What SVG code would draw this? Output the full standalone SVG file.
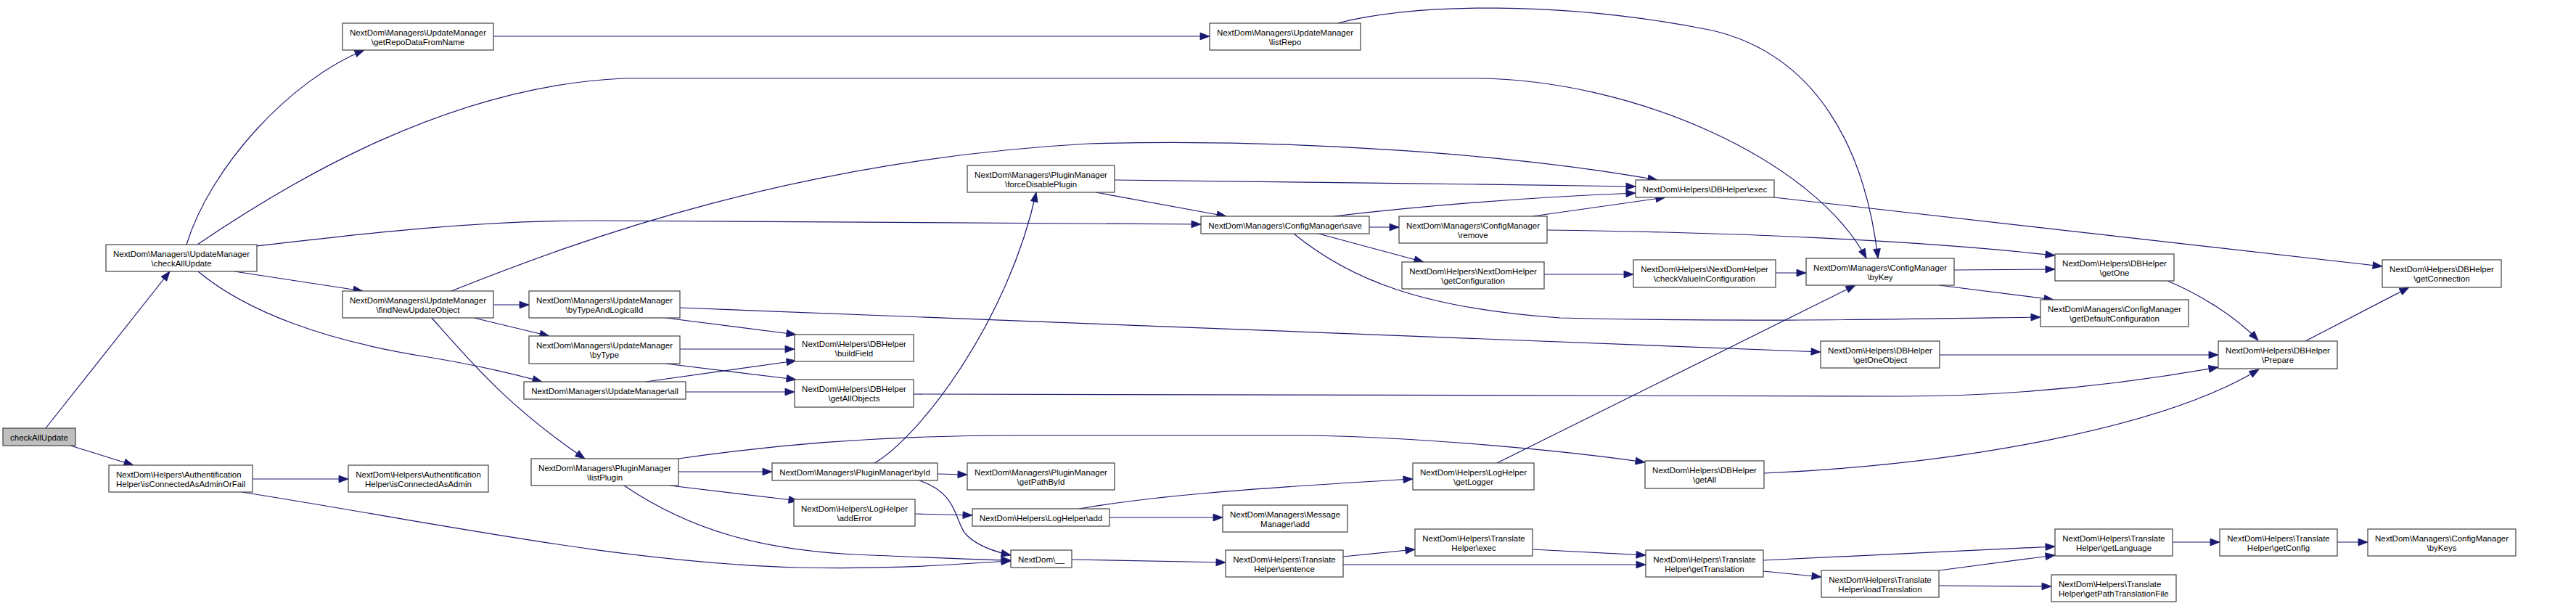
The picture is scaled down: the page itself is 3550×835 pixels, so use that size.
<svg xmlns="http://www.w3.org/2000/svg" width="3550" height="835" viewBox="0 0 3550 835">
<style>
.n rect{fill:#ffffff;stroke:#404040;stroke-width:1.2}
.root rect{fill:#bfbfbf}
text{font-family:"Liberation Sans",Arial,Helvetica,sans-serif;font-size:11.5px;fill:#000;text-anchor:middle}
text.l{text-anchor:start}
.e path{fill:none;stroke:#191970;stroke-width:1.2;marker-end:url(#a)}
</style>
<defs>
<marker id="a" markerUnits="userSpaceOnUse" markerWidth="13" markerHeight="11" viewBox="0 0 12 10" refX="12" refY="5" orient="auto" overflow="visible">
<path d="M0,0.5L12,5L0,9.5z" fill="#191970" stroke="#191970" stroke-width="0.8"/>
</marker>
</defs>
<rect x="0" y="0" width="3550" height="835" fill="#ffffff"/>
<g id="edges" class="e">
<path d="M63,590L234,374"/>
<path d="M97,614L184,641"/>
<path d="M257,337C290,230 400,110 502,69"/>
<path d="M272,337C400,250 620,118 860,108L2030,108C2250,108 2500,220 2572,356"/>
<path d="M354,339C500,322 650,304 820,304L1655,309"/>
<path d="M323,374L500,401"/>
<path d="M273,374C340,430 450,470 590,492C650,502 700,513 747,526"/>
<path d="M333,678C600,720 850,775 1100,782C1250,785 1330,776 1393,773"/>
<path d="M348,660L480,660"/>
<path d="M680,50L1667,50"/>
<path d="M680,420L729,420"/>
<path d="M653,438L757,463"/>
<path d="M595,438C650,500 700,560 806,632"/>
<path d="M622,401C800,330 1100,220 1500,198C1800,190 2100,215 2284,248"/>
<path d="M1843,32C1950,5 2150,0 2360,42C2500,75 2570,200 2588,356"/>
<path d="M1837,298C1950,285 2100,272 2254,266"/>
<path d="M1887,313L1928,313"/>
<path d="M1817,322L1962,361"/>
<path d="M1783,322C1860,385 1960,425 2150,438C2400,444 2600,440 2812,437"/>
<path d="M1536,248C1800,250 2000,254 2254,257"/>
<path d="M1510,265L1690,298"/>
<path d="M1205,638C1270,600 1390,440 1428,265"/>
<path d="M1292,653L1333,654"/>
<path d="M1267,662C1320,680 1315,715 1330,735C1345,752 1370,760 1393,765"/>
<path d="M935,650L1064,650"/>
<path d="M923,669L1100,690"/>
<path d="M860,669C950,730 1050,760 1200,765C1280,768 1340,771 1393,772"/>
<path d="M935,632C1050,615 1200,600 1400,600L1800,600C1950,602 2150,620 2267,637"/>
<path d="M917,438L1097,461"/>
<path d="M937,424L2509,485"/>
<path d="M937,481L1095,481"/>
<path d="M917,501L1097,523"/>
<path d="M890,526L1097,497"/>
<path d="M945,540L1095,540"/>
<path d="M1259,543L2620,546C2800,546 2950,525 3057,506"/>
<path d="M2673,489L3057,489"/>
<path d="M2431,652C2700,640 2980,590 3113,509"/>
<path d="M2987,387C3030,405 3080,435 3112,469"/>
<path d="M3177,470L3320,396"/>
<path d="M2445,272L3283,367"/>
<path d="M2693,372L2832,371"/>
<path d="M2672,393L2830,413"/>
<path d="M2112,298L2295,272"/>
<path d="M2132,317C2400,320 2650,332 2832,352"/>
<path d="M2128,378L2251,378"/>
<path d="M2447,376L2489,376"/>
<path d="M2063,638L2557,393"/>
<path d="M1487,701C1580,685 1700,674 1947,660"/>
<path d="M1529,713L1685,713"/>
<path d="M1261,708L1340,710"/>
<path d="M1477,771L1689,775"/>
<path d="M1851,767L1950,757"/>
<path d="M1851,778L2268,778"/>
<path d="M2112,757L2268,765"/>
<path d="M2430,772L2832,753"/>
<path d="M2430,787L2510,795"/>
<path d="M2672,786L2832,765"/>
<path d="M2672,807L2827,808"/>
<path d="M2994,747L3059,747"/>
<path d="M3221,747L3263,747"/>
</g>
<g id="n0" class="n root"><rect x="4" y="590" width="100" height="24"/><text x="54" y="606.5">checkAllUpdate</text></g>
<g id="n1" class="n"><rect x="146" y="337" width="208" height="37"/><text x="250" y="353.5">NextDom\Managers\UpdateManager</text><text x="250" y="366.5">\checkAllUpdate</text></g>
<g id="n2" class="n"><rect x="150" y="641" width="198" height="37"/><text class="l" x="160" y="657.5">NextDom\Helpers\Authentification</text><text class="l" x="160" y="670.5">Helper\isConnectedAsAdminOrFail</text></g>
<g id="n3" class="n"><rect x="472" y="32" width="208" height="37"/><text x="576" y="48.5">NextDom\Managers\UpdateManager</text><text x="576" y="61.5">\getRepoDataFromName</text></g>
<g id="n4" class="n"><rect x="472" y="401" width="208" height="37"/><text x="576" y="417.5">NextDom\Managers\UpdateManager</text><text x="576" y="430.5">\findNewUpdateObject</text></g>
<g id="n41" class="n"><rect x="480" y="641" width="193" height="37"/><text x="576.5" y="657.5">NextDom\Helpers\Authentification</text><text x="576.5" y="670.5">Helper\isConnectedAsAdmin</text></g>
<g id="n9" class="n"><rect x="729" y="401" width="208" height="37"/><text x="833" y="417.5">NextDom\Managers\UpdateManager</text><text x="833" y="430.5">\byTypeAndLogicalId</text></g>
<g id="n10" class="n"><rect x="729" y="463" width="208" height="38"/><text x="833" y="479.5">NextDom\Managers\UpdateManager</text><text x="833" y="492.5">\byType</text></g>
<g id="n11" class="n"><rect x="722" y="526" width="223" height="24"/><text x="833.5" y="542.5">NextDom\Managers\UpdateManager\all</text></g>
<g id="n12" class="n"><rect x="732" y="632" width="203" height="37"/><text x="833.5" y="648.5">NextDom\Managers\PluginManager</text><text x="833.5" y="661.5">\listPlugin</text></g>
<g id="n13" class="n"><rect x="1095" y="461" width="164" height="37"/><text x="1177" y="477.5">NextDom\Helpers\DBHelper</text><text x="1177" y="490.5">\buildField</text></g>
<g id="n14" class="n"><rect x="1095" y="523" width="164" height="38"/><text x="1177" y="539.5">NextDom\Helpers\DBHelper</text><text x="1177" y="552.5">\getAllObjects</text></g>
<g id="n15" class="n"><rect x="1064" y="638" width="228" height="24"/><text x="1178" y="654.5">NextDom\Managers\PluginManager\byId</text></g>
<g id="n16" class="n"><rect x="1094" y="688" width="167" height="37"/><text x="1177.5" y="704.5">NextDom\Helpers\LogHelper</text><text x="1177.5" y="717.5">\addError</text></g>
<g id="n17" class="n"><rect x="1333" y="228" width="203" height="37"/><text x="1434.5" y="244.5">NextDom\Managers\PluginManager</text><text x="1434.5" y="257.5">\forceDisablePlugin</text></g>
<g id="n18" class="n"><rect x="1333" y="638" width="203" height="37"/><text x="1434.5" y="654.5">NextDom\Managers\PluginManager</text><text x="1434.5" y="667.5">\getPathById</text></g>
<g id="n19" class="n"><rect x="1340" y="701" width="189" height="24"/><text x="1434.5" y="717.5">NextDom\Helpers\LogHelper\add</text></g>
<g id="n20" class="n"><rect x="1393" y="758" width="84" height="24"/><text x="1435" y="774.5">NextDom\__</text></g>
<g id="n21" class="n"><rect x="1685" y="696" width="172" height="37"/><text x="1771" y="712.5">NextDom\Managers\Message</text><text x="1771" y="725.5">Manager\add</text></g>
<g id="n22" class="n"><rect x="1689" y="758" width="162" height="37"/><text x="1770" y="774.5">NextDom\Helpers\Translate</text><text x="1770" y="787.5">Helper\sentence</text></g>
<g id="n5" class="n"><rect x="1667" y="32" width="208" height="37"/><text x="1771" y="48.5">NextDom\Managers\UpdateManager</text><text x="1771" y="61.5">\listRepo</text></g>
<g id="n8" class="n"><rect x="1655" y="298" width="232" height="24"/><text x="1771" y="314.5">NextDom\Managers\ConfigManager\save</text></g>
<g id="n23" class="n"><rect x="1928" y="298" width="204" height="37"/><text x="2030" y="314.5">NextDom\Managers\ConfigManager</text><text x="2030" y="327.5">\remove</text></g>
<g id="n24" class="n"><rect x="1932" y="361" width="196" height="37"/><text x="2030" y="377.5">NextDom\Helpers\NextDomHelper</text><text x="2030" y="390.5">\getConfiguration</text></g>
<g id="n7" class="n"><rect x="2254" y="248" width="191" height="24"/><text x="2349.5" y="264.5">NextDom\Helpers\DBHelper\exec</text></g>
<g id="n25" class="n"><rect x="2251" y="358" width="196" height="38"/><text x="2349" y="374.5">NextDom\Helpers\NextDomHelper</text><text x="2349" y="387.5">\checkValueInConfiguration</text></g>
<g id="n26" class="n"><rect x="1947" y="638" width="167" height="37"/><text x="2030.5" y="654.5">NextDom\Helpers\LogHelper</text><text x="2030.5" y="667.5">\getLogger</text></g>
<g id="n27" class="n"><rect x="2267" y="635" width="164" height="38"/><text x="2349" y="651.5">NextDom\Helpers\DBHelper</text><text x="2349" y="664.5">\getAll</text></g>
<g id="n28" class="n"><rect x="1950" y="729" width="162" height="37"/><text x="2031" y="745.5">NextDom\Helpers\Translate</text><text x="2031" y="758.5">Helper\exec</text></g>
<g id="n29" class="n"><rect x="2268" y="758" width="162" height="37"/><text x="2349" y="774.5">NextDom\Helpers\Translate</text><text x="2349" y="787.5">Helper\getTranslation</text></g>
<g id="n6" class="n"><rect x="2489" y="356" width="204" height="37"/><text x="2591" y="372.5">NextDom\Managers\ConfigManager</text><text x="2591" y="385.5">\byKey</text></g>
<g id="n30" class="n"><rect x="2832" y="350" width="164" height="37"/><text x="2914" y="366.5">NextDom\Helpers\DBHelper</text><text x="2914" y="379.5">\getOne</text></g>
<g id="n31" class="n"><rect x="2812" y="413" width="204" height="37"/><text x="2914" y="429.5">NextDom\Managers\ConfigManager</text><text x="2914" y="442.5">\getDefaultConfiguration</text></g>
<g id="n32" class="n"><rect x="2509" y="470" width="164" height="37"/><text x="2591" y="486.5">NextDom\Helpers\DBHelper</text><text x="2591" y="499.5">\getOneObject</text></g>
<g id="n33" class="n"><rect x="2510" y="786" width="162" height="37"/><text x="2591" y="802.5">NextDom\Helpers\Translate</text><text x="2591" y="815.5">Helper\loadTranslation</text></g>
<g id="n34" class="n"><rect x="2832" y="729" width="162" height="37"/><text x="2913" y="745.5">NextDom\Helpers\Translate</text><text x="2913" y="758.5">Helper\getLanguage</text></g>
<g id="n35" class="n"><rect x="2827" y="792" width="172" height="37"/><text class="l" x="2837" y="808.5">NextDom\Helpers\Translate</text><text class="l" x="2837" y="821.5">Helper\getPathTranslationFile</text></g>
<g id="n36" class="n"><rect x="3283" y="358" width="164" height="38"/><text x="3365" y="374.5">NextDom\Helpers\DBHelper</text><text x="3365" y="387.5">\getConnection</text></g>
<g id="n37" class="n"><rect x="3057" y="470" width="164" height="38"/><text x="3139" y="486.5">NextDom\Helpers\DBHelper</text><text x="3139" y="499.5">\Prepare</text></g>
<g id="n38" class="n"><rect x="3059" y="729" width="162" height="37"/><text x="3140" y="745.5">NextDom\Helpers\Translate</text><text x="3140" y="758.5">Helper\getConfig</text></g>
<g id="n39" class="n"><rect x="3263" y="729" width="204" height="37"/><text x="3365" y="745.5">NextDom\Managers\ConfigManager</text><text x="3365" y="758.5">\byKeys</text></g>
</svg>
